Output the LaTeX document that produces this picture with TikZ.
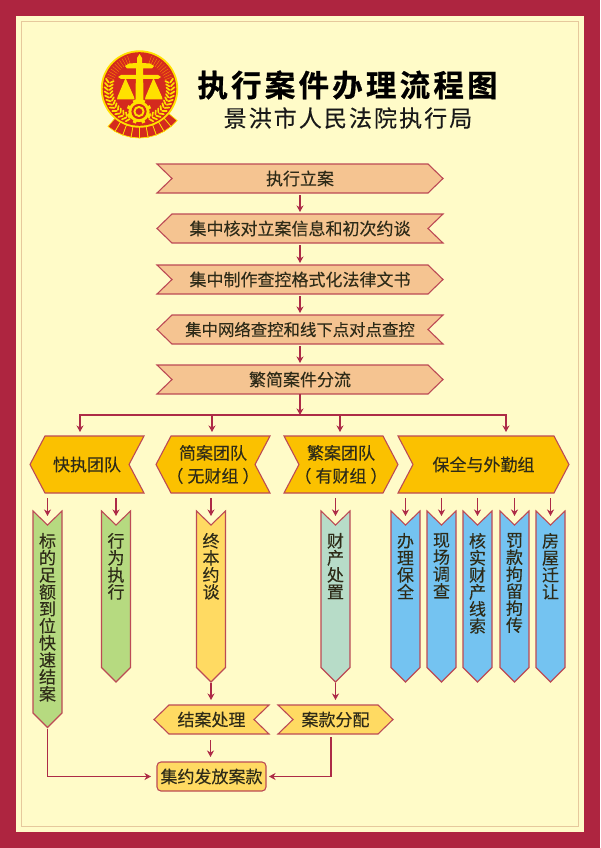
\documentclass[tikz,border=0pt]{standalone}
\usepackage{fontspec}
\setmainfont{Noto Sans CJK SC}
\newfontfamily\cjk[FakeBold=0.2]{Noto Sans CJK SC}
\newfontfamily\cjktitle[LetterSpace=10.5,FakeBold=0.6]{Noto Sans CJK SC Bold}
\newfontfamily\cjksub[LetterSpace=9,FakeBold=0.25]{Noto Sans CJK SC}
\usetikzlibrary{arrows.meta,calc}
\definecolor{crim}{HTML}{AE2540}
\definecolor{paper}{HTML}{FFFBC8}
\definecolor{rule}{HTML}{E6C89C}
\definecolor{edge}{HTML}{BC4A55}
\definecolor{wire}{HTML}{AD2B47}
\definecolor{ink}{HTML}{2E2B18}
\definecolor{peach}{HTML}{F5C491}
\definecolor{gold}{HTML}{FBC100}
\definecolor{leaf}{HTML}{B6DA80}
\definecolor{butter}{HTML}{FFDA62}
\definecolor{mint}{HTML}{B7DCC8}
\definecolor{sky}{HTML}{74C3F1}
\definecolor{ered}{HTML}{D42A1E}
\definecolor{egold}{HTML}{FFE100}
\tikzset{
  x=1pt,y=-1pt,
  shapeline/.style={draw=edge,line width=1.1pt,line join=miter},
  lbl/.style={inner sep=0pt,outer sep=0pt,text=ink,align=center,font=\cjk\fontsize{17}{23}\selectfont},
  arr/.style={draw=wire,line width=1.25pt,-{Stealth[length=6.5pt,width=7pt,inset=2pt]}},
  grain/.style={draw=egold,line width=1.7pt,line cap=round},
  hatch/.style={draw=orange!85!yellow,line width=0.35pt},
}
% right-pointing chevron
\newcommand\rchev[7]{%
  \pgfmathsetmacro\myw{#3-#2}\pgfmathsetmacro\myh{#5-#4}%
  \pgfmathsetmacro\myx{(#2+#3)/2}\pgfmathsetmacro\myy{(#4+#5)/2}%
  \pgfmathsetmacro\mya{#2+15}\pgfmathsetmacro\myb{#3-15}%
  \path[shapeline,fill=#6] (#2,#4)--(\myb,#4)--(#3,\myy)--(\myb,#5)--(#2,#5)--(\mya,\myy)--cycle;
  \node[lbl,minimum width=\myw pt,minimum height=\myh pt] (#1) at (\myx,\myy) {#7};}
% left-pointing chevron
\newcommand\lchev[7]{%
  \pgfmathsetmacro\myw{#3-#2}\pgfmathsetmacro\myh{#5-#4}%
  \pgfmathsetmacro\myx{(#2+#3)/2}\pgfmathsetmacro\myy{(#4+#5)/2}%
  \pgfmathsetmacro\mya{#2+15}\pgfmathsetmacro\myb{#3-15}%
  \path[shapeline,fill=#6] (\mya,#4)--(#3,#4)--(\myb,\myy)--(#3,#5)--(\mya,#5)--(#2,\myy)--cycle;
  \node[lbl,minimum width=\myw pt,minimum height=\myh pt] (#1) at (\myx,\myy) {#7};}
% vertical banner: name, x1, shoulder y, fill, text lines
\newcommand\vban[5]{%
  \pgfmathsetmacro\myb{#2+29}\pgfmathsetmacro\myx{#2+14.5}%
  \pgfmathsetmacro\myt{#3+14.5}\pgfmathsetmacro\myh{#3+14.5-511}\pgfmathsetmacro\myy{(511+\myt)/2}%
  \path[shapeline,fill=#4] (#2,511)--(\myx,525)--(\myb,511)--(\myb,#3)--(\myx,\myt)--(#2,#3)--cycle;
  \node[inner sep=0pt,outer sep=0pt,text=ink] (#1) at (\myx,\myy)
    {\parbox[c][\myh pt][t]{29pt}{\vspace*{22pt}\centering\cjk\fontsize{17}{17}\selectfont #5\par}};}
\begin{document}
\begin{tikzpicture}
\useasboundingbox (0,0) rectangle (600,848);
% frame
\fill[crim] (0,0) rectangle (600,848);
\fill[paper] (16,16) rectangle (584,832);
\draw[rule,line width=0.9pt] (21.5,21.5) rectangle (578.5,826.5);

% emblem
\foreach \a in {45,55,...,125}{
  \path[fill=ered,draw=egold,line width=0.7pt]
    ({139.5+36*cos(\a-5)},{89+36*sin(\a-5)}) -- ({139.5+49*cos(\a-5)},{89+49*sin(\a-5)})
    -- ({139.5+49*cos(\a+5)},{89+49*sin(\a+5)}) -- ({139.5+36*cos(\a+5)},{89+36*sin(\a+5)}) -- cycle;
}
\fill[egold] (139.5,89) circle (38.7);
\fill[ered] (139.5,89) circle (36.8);
\foreach \a in {200,205,...,250}{
  \draw[hatch] ({139.5+27*cos(\a)},{89+27*sin(\a)}) -- ({139.5+35*cos(\a)},{89+35*sin(\a)});
  \draw[hatch] ({139.5+27*cos(180-\a)},{89+27*sin(180-\a)}) -- ({139.5+35*cos(180-\a)},{89+35*sin(180-\a)});
}
\foreach \a in {108,115,...,192}{
  \draw[grain] ({139.5+31.5*cos(\a)},{89+31.5*sin(\a)}) -- ({139.5+35*cos(\a+5)},{89+35*sin(\a+5)});
  \draw[grain] ({139.5+30*cos(\a)},{89+30*sin(\a)}) -- ({139.5+27*cos(\a+5)},{89+27*sin(\a+5)});
  \draw[grain] ({139.5+31.5*cos(180-\a)},{89+31.5*sin(180-\a)}) -- ({139.5+35*cos(175-\a)},{89+35*sin(175-\a)});
  \draw[grain] ({139.5+30*cos(180-\a)},{89+30*sin(180-\a)}) -- ({139.5+27*cos(175-\a)},{89+27*sin(175-\a)});
}
% pillar, beam and pans
\fill[egold] (139.5,54) -- (142,58) -- (142,63) -- (150,63.5) -- (154,66) -- (152,68.5) -- (143,68.5)
  -- (143,75) -- (158,75) -- (161,77) -- (158,79) -- (143.2,79) -- (143.5,104) -- (135.5,104) -- (135.8,79)
  -- (121,79) -- (118,77) -- (121,75) -- (136,75) -- (136,68.5) -- (127,68.5) -- (125,66) -- (129,63.5)
  -- (137,63) -- (137,58) -- cycle;
\fill[egold] (125.5,78) -- (134,97) -- (134.5,99.5) -- (117,99.5) -- (117.5,97) -- cycle;
\fill[egold] (153.5,78) -- (162,97) -- (162.5,99.5) -- (145,99.5) -- (145.5,97) -- cycle;
% gear
\foreach \a in {0,45,...,315}{
  \draw[egold,line width=3.4pt] ({139+8*cos(\a+22.5)},{111.5+8*sin(\a+22.5)}) -- ({139+12.4*cos(\a+22.5)},{111.5+12.4*sin(\a+22.5)});
}
\fill[egold] (139,111.5) circle (10.6);
\fill[ered] (139,111.5) circle (7.6);
\fill[egold] (139,111.5) circle (5.6);
\fill[ered] (139,111.5) circle (3.4);

% titles
\node[inner sep=0pt,text=black,font=\cjktitle\fontsize{30.5}{32}\selectfont] (title) at (347.5,85) {执行案件办理流程图};
\node[inner sep=0pt,text=black!90,font=\cjksub\fontsize{23}{26}\selectfont] (subtitle) at (348,118) {景洪市人民法院执行局};

% main flow
\rchev{s1}{157}{443}{164}{193}{peach}{执行立案}
\lchev{s2}{157}{443}{214}{243}{peach}{集中核对立案信息和初次约谈}
\rchev{s3}{157}{443}{265}{294}{peach}{集中制作查控格式化法律文书}
\lchev{s4}{157}{443}{315}{344}{peach}{\fontsize{16.4}{23}\selectfont 集中网络查控和线下点对点查控}
\rchev{s5}{157}{443}{365}{394}{peach}{繁简案件分流}

% teams
\lchev{t1}{30}{144}{436}{493}{gold}{快执团队}
\lchev{t2}{156}{270}{436}{493}{gold}{简案团队\\（\kern4pt 无财组\kern4pt ）}
\rchev{t3}{284}{398}{436}{493}{gold}{繁案团队\\（\kern4pt 有财组\kern4pt ）}
\rchev{t4}{398}{569}{436}{493}{gold}{保全与外勤组}

% banners
\vban{v1}{33}{713}{leaf}{标\\的\\足\\额\\到\\位\\快\\速\\结\\案}
\vban{v2}{101.5}{667.5}{leaf}{行\\为\\执\\行}
\vban{v3}{196.5}{667.5}{butter}{终\\本\\约\\谈}
\vban{v4}{321}{667.5}{mint}{财\\产\\处\\置}
\vban{v5}{391}{667.5}{sky}{办\\理\\保\\全}
\vban{v6}{427}{667.5}{sky}{现\\场\\调\\查}
\vban{v7}{463}{667.5}{sky}{核\\实\\财\\产\\线\\索}
\vban{v8}{500}{667.5}{sky}{罚\\款\\拘\\留\\拘\\传}
\vban{v9}{536}{667.5}{sky}{房\\屋\\迁\\让}

% closing boxes
\lchev{e1}{154}{269}{705}{734}{butter}{结案处理}
\rchev{e2}{278}{393}{705}{734}{butter}{案款分配}
\node[lbl,shapeline,fill=butter,rounded corners=4pt,minimum width=109pt,minimum height=29pt] (f) at (211.5,776.5) {集约发放案款};

% connectors
\foreach \p/\q in {s1/s2,s2/s3,s3/s4,s4/s5}
  \draw[arr,shorten <=2pt,shorten >=2pt] (\p.south) -- (\q.north);
\coordinate (bus) at (300,415);
\draw[arr] (s5.south) -- (bus);
\draw[arr,shorten >=4pt] (bus) -| ([xshift=-7pt]t1.north);
\draw[arr,shorten >=4pt] (bus) -| ([xshift=-1pt]t2.north);
\draw[arr,shorten >=4pt] (bus) -| ([xshift=-1pt]t3.north);
\draw[arr,shorten >=4pt] (bus) -| ([xshift=22.5pt]t4.north);
\foreach \p/\q in {t1/v1,t1/v2,t2/v3,t3/v4,t4/v5,t4/v6,t4/v7,t4/v8,t4/v9}
  \draw[arr,shorten <=5pt,shorten >=-5pt] (\q.north |- \p.south) -- (\q.north);
\draw[arr,shorten <=1pt,shorten >=5pt] (v3.south) -- (v3.south |- e1.north);
\draw[arr,shorten <=1pt,shorten >=5pt] (v4.south) -- (v4.south |- e2.north);
\draw[arr,shorten <=6pt,shorten >=5pt] ([xshift=-1pt]e1.south) -- ([xshift=-1pt]e1.south |- f.north);
\draw[arr,shorten <=1pt,shorten >=6pt] (v1.south) |- (f.west);
\draw[arr,shorten <=3pt,shorten >=3pt] ([xshift=-4.5pt]e2.south) |- (f.east);
\end{tikzpicture}
\end{document}
